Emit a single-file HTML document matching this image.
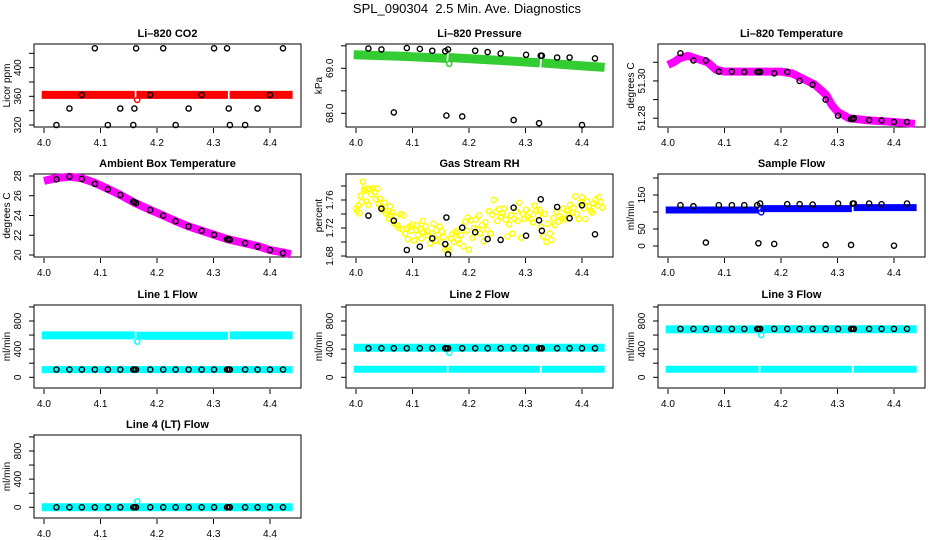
<!DOCTYPE html>
<html><head><meta charset="utf-8"><style>
html,body{margin:0;padding:0;background:#fff;}
svg{display:block;font-family:"Liberation Sans",sans-serif;}
</style></head><body>
<svg id="chart" width="936" height="540" viewBox="0 0 936 540" xmlns="http://www.w3.org/2000/svg">
<text x="467" y="13" text-anchor="middle" font-size="13">SPL_090304&#160; 2.5 Min. Ave. Diagnostics</text>
</svg>
<script>
// shared sample times for black (instantaneous) circles
const BX = [4.022,4.045,4.067,4.09,4.113,4.135,4.158,4.160,4.163,4.188,4.211,4.233,4.256,4.279,4.301,4.324,4.327,4.329,4.356,4.378,4.4,4.423];
const CO2_B = [320,343,362,427,320,343,320,343,427,362,427,320,343,362,427,427,343,320,320,343,362,427];
const PRES_B = [69.44,69.42,68.02,69.45,69.43,69.39,69.38,67.95,69.42,67.93,69.39,69.36,69.33,67.85,69.30,67.78,69.28,69.28,69.24,69.24,67.74,69.22];
const TEMP_B = [51.3148,51.311,51.311,51.305,51.305,51.3048,51.3048,51.3048,51.3048,51.3041,51.3048,51.300,51.298,51.290,51.2814,51.2796,51.2797,51.280,51.279,51.2788,51.278,51.278];
const AMB_B = [27.66,27.93,27.7,27.2,26.65,26.08,25.4,25.35,25.25,24.55,24.0,23.43,22.9,22.46,22.05,21.6,21.58,21.55,21.2,20.85,20.5,20.2];
const RH_B = [1.7376,1.7476,1.7305,1.6886,1.6933,1.7052,1.697,1.735,1.6824,1.7205,1.714,1.7043,1.703,1.749,1.709,1.731,1.761,1.716,1.750,1.734,1.7524,1.711];
const SF_B = [120,117,10,120,120,120,120,8,125,6,123,123,122,3,125,3,125,125,125,123,1,125];
const L1_B = [110,110,110,110,110,110,110,110,110,110,110,110,110,110,110,110,110,110,110,110,110,110];
const L2_B = [412,412,412,412,412,412,412,412,412,412,412,412,412,412,412,412,412,412,412,412,412,412];
const L3_B = [688,688,688,688,688,688,688,688,688,688,688,688,688,688,688,688,688,688,688,688,688,688];
const L4_B = [0,0,0,0,0,0,0,0,0,0,0,0,0,0,0,0,0,0,0,0,0,0];

// dense averaged series (band centre lines), split into segments
const SEG_X = [[3.996,4.08,4.1605],[4.1635,4.25,4.3255],[4.3285,4.385,4.440]];
const CO2_SEG = [[362,362,362],[362,362,362],[362,362,362]];
const PRES_SEG = [[69.30,69.27,69.22],[69.24,69.18,69.12],[69.12,69.07,69.02]];
const SF_SEG = [[106,106,106],[110,110,110],[113,113,113]];
const L1_HI = [[595,595,595],[590,590,590],[595,595,595]];
const L1_LO = [[110,110,110],[110,110,110],[110,110,110]];
const L2_HI = [[420,420,420],[420,420,420],[420,420,420]];
const L2_LO = [[113,113,113],[113,113,113],[113,113,113]];
const L3_HI = [[680,680,680],[682,682,682],[682,682,682]];
const L3_LO = [[113,113,113],[113,113,113],[113,113,113]];
const L4_SEG = [[0,0,0],[0,0,0],[0,0,0]];
const OUT_X = 4.165;
const CO2_OUT = 355, PRES_OUT = 69.1, SF_OUT = 99, L1_OUT = 507, L2_OUT = 350, L3_OUT = 600, L4_OUT = 86;

const TEMP_X = [4.0,4.01,4.02,4.035,4.05,4.07,4.085,4.1,4.2,4.22,4.24,4.26,4.28,4.29,4.3,4.32,4.35,4.4,4.437];
const TEMP_Y = [51.3086,51.310,51.312,51.3135,51.312,51.310,51.306,51.305,51.305,51.304,51.301,51.298,51.2925,51.287,51.2835,51.280,51.279,51.278,51.277];
const AMB_X = [4.0,4.02,4.045,4.067,4.09,4.113,4.135,4.16,4.188,4.211,4.233,4.256,4.279,4.301,4.325,4.356,4.378,4.4,4.423,4.437];
const AMB_Y = [27.5,27.76,27.93,27.76,27.3,26.7,26.08,25.3,24.57,24.0,23.43,22.9,22.46,22.05,21.6,21.2,20.9,20.5,20.27,20.07];

const RH_X = [4.000,4.002,4.004,4.006,4.008,4.010,4.012,4.014,4.016,4.018,4.020,4.022,4.025,4.027,4.030,4.033,4.035,4.038,4.040,4.042,4.045,4.048,4.050,4.053,4.056,4.058,4.060,4.062,4.065,4.068,4.070,4.073,4.076,4.079,4.082,4.084,4.087,4.090,4.092,4.095,4.098,4.100,4.103,4.106,4.108,4.110,4.113,4.116,4.118,4.120,4.123,4.126,4.128,4.131,4.134,4.137,4.140,4.142,4.145,4.148,4.150,4.152,4.155,4.158,4.162,4.165,4.168,4.170,4.173,4.176,4.178,4.180,4.183,4.186,4.190,4.193,4.196,4.198,4.200,4.203,4.206,4.209,4.212,4.215,4.218,4.220,4.223,4.226,4.229,4.232,4.235,4.238,4.241,4.244,4.247,4.250,4.253,4.256,4.259,4.262,4.265,4.268,4.271,4.274,4.277,4.280,4.283,4.286,4.289,4.292,4.295,4.298,4.301,4.304,4.307,4.310,4.313,4.316,4.319,4.322,4.325,4.328,4.331,4.334,4.337,4.340,4.343,4.346,4.349,4.352,4.355,4.358,4.361,4.364,4.367,4.370,4.373,4.376,4.379,4.382,4.385,4.388,4.391,4.394,4.397,4.400,4.403,4.406,4.409,4.412,4.415,4.418,4.421,4.424,4.427,4.430,4.433,4.436];
const RH_Y = [1.748,1.744,1.752,1.741,1.766,1.757,1.786,1.775,1.773,1.758,1.776,1.753,1.776,1.768,1.777,1.771,1.761,1.776,1.754,1.762,1.750,1.745,1.756,1.741,1.744,1.733,1.751,1.738,1.742,1.726,1.736,1.724,1.720,1.740,1.718,1.738,1.712,1.720,1.704,1.722,1.716,1.725,1.702,1.717,1.724,1.710,1.719,1.705,1.730,1.714,1.722,1.715,1.709,1.698,1.712,1.726,1.702,1.717,1.710,1.722,1.700,1.715,1.707,1.689,1.692,1.688,1.705,1.711,1.700,1.713,1.716,1.703,1.698,1.710,1.694,1.729,1.716,1.735,1.689,1.731,1.706,1.720,1.732,1.718,1.738,1.712,1.724,1.701,1.728,1.718,1.744,1.712,1.739,1.760,1.743,1.730,1.747,1.736,1.741,1.748,1.732,1.708,1.725,1.738,1.712,1.733,1.744,1.730,1.756,1.706,1.740,1.733,1.746,1.736,1.742,1.733,1.728,1.752,1.745,1.738,1.746,1.722,1.708,1.740,1.700,1.726,1.712,1.703,1.734,1.724,1.743,1.729,1.737,1.733,1.748,1.732,1.745,1.740,1.753,1.742,1.749,1.765,1.740,1.733,1.756,1.764,1.748,1.733,1.758,1.750,1.745,1.742,1.755,1.760,1.752,1.764,1.757,1.749];

const X_TICKS = [4.0,4.1,4.2,4.3,4.4];
const X_LABELS = ["4.0","4.1","4.2","4.3","4.4"];

const NS = "http://www.w3.org/2000/svg";
const svg = document.getElementById('chart');
const COL_LEFT = [34, 346, 658];
const ROW_TOP = [44, 174, 305, 435];
const BOX_W = 267, BOX_H = 83;

function mk(tag, attrs, parent){
  const e = document.createElementNS(NS, tag);
  for (const k in attrs) e.setAttribute(k, attrs[k]);
  (parent || svg).appendChild(e);
  return e;
}

function panel(col, row, title, ylab, ymin, ymax, yticks, ylabels, key){
  const L = COL_LEFT[col], T = ROW_TOP[row], B = T + BOX_H, R = L + BOX_W;
  const g = mk('g', {});
  
  
  const p = {
    g: g, L: L, T: T, B: B, R: R,
    x: v => L + 10 + (v - 4.0) * 565,
    y: v => B - (v - ymin) / (ymax - ymin) * BOX_H
  };
  const t = mk('text', {x: (L + R) / 2, y: T - 7, 'text-anchor': 'middle', 'font-size': 11, 'font-weight': 'bold'}, g);
  t.textContent = title;
  
  
  const yl = mk('text', {x: L - 24, y: (T + B) / 2, 'text-anchor': 'middle', 'font-size': 10, transform: `rotate(-90 ${L - 24} ${(T + B) / 2})`}, g);
  yl.textContent = ylab;
  
  
  const box = mk('rect', {x: L, y: T, width: BOX_W, height: BOX_H, fill: 'none', stroke: '#000', 'stroke-width': 1}, g);
  
  
  yticks.forEach(v => {
    const yy = p.y(v);
    const tk = mk('line', {x1: L - 5, x2: L, y1: yy, y2: yy, stroke: '#000'}, g);
    
    
  });
  ylabels.forEach(lb => {
    const yy = p.y(parseFloat(lb));
    const tx = mk('text', {x: L - 13, y: yy, 'text-anchor': 'middle', 'font-size': 10, transform: `rotate(-90 ${L - 13} ${yy})`}, g);
    tx.textContent = lb;
    
    
  });
  X_TICKS.forEach((v, i) => {
    const xx = p.x(v);
    const tk = mk('line', {x1: xx, x2: xx, y1: B + 1, y2: B + 6, stroke: '#000'}, g);
    
    
    const tx = mk('text', {x: xx, y: B + 19, 'text-anchor': 'middle', 'font-size': 10}, g);
    tx.textContent = X_LABELS[i];
    
    
  });
  return p;
}

function band(p, xs, ys, color, w, name){
  const pts = xs.map((x, i) => p.x(x).toFixed(1) + ',' + p.y(ys[i]).toFixed(1)).join(' ');
  const pl = mk('polyline', {points: pts, fill: 'none', stroke: color, 'stroke-width': w, 'stroke-linecap': 'butt', 'stroke-linejoin': 'round'}, p.g);
  
  
}
function segBands(p, segs, color, w, name){
  SEG_X.forEach((xs, i) => band(p, xs, segs[i], color, w, name));
}
function circ(p, x, y, color, name, r){
  const c = mk('circle', {cx: p.x(x), cy: p.y(y), r: r || 2.6, fill: 'none', stroke: color, 'stroke-width': 1.4}, p.g);
  
  
}
function blacks(p, vals){
  BX.forEach((x, i) => circ(p, x, vals[i], '#000', 'sample-point'));
}

// Row 1
let p = panel(0, 0, 'Li\u2013820 CO2', 'Licor ppm', 317.2, 433, [320,340,360,380,400,420], ['320','360','400'], 'co2');
segBands(p, CO2_SEG, '#ff0000', 8, 'co2-average-band');
circ(p, OUT_X, CO2_OUT, '#ff0000', 'co2-outlier');
blacks(p, CO2_B);

p = panel(1, 0, 'Li\u2013820 Pressure', 'kPa', 67.696, 69.54, [68.0,68.5,69.0,69.5], ['68.0','69.0'], 'pressure');
segBands(p, PRES_SEG, '#33cc33', 9, 'pressure-average-band');
circ(p, OUT_X, PRES_OUT, '#22cc22', 'pressure-outlier');
blacks(p, PRES_B);

p = panel(2, 0, 'Li\u2013820 Temperature', 'degrees C', 51.2753, 51.3198, [51.28,51.29,51.30,51.31], ['51.28','51.30'], 'temperature');
band(p, TEMP_X, TEMP_Y, '#ff00ff', 8, 'temperature-average-band');
blacks(p, TEMP_B);

// Row 2
p = panel(0, 1, 'Ambient Box Temperature', 'degrees C', 19.8, 28.2, [20,22,24,26,28], ['20','22','24','26','28'], 'ambient');
band(p, AMB_X, AMB_Y, '#ff00ff', 8, 'ambient-average-band');
blacks(p, AMB_B);

p = panel(1, 1, 'Gas Stream RH', 'percent', 1.6786, 1.7971, [1.68,1.70,1.72,1.74,1.76,1.78], ['1.68','1.72','1.76'], 'rh');
RH_X.forEach((x, i) => circ(p, x, RH_Y[i], '#ffff00', 'rh-average-point'));
blacks(p, RH_B);

p = panel(2, 1, 'Sample Flow', 'ml/min', -32.4, 211.8, [0,50,100,150,200], ['0','50','150'], 'sample-flow');
segBands(p, SF_SEG, '#0000ff', 7, 'sample-flow-average-band');
circ(p, OUT_X, SF_OUT, '#0000ff', 'sample-flow-outlier');
blacks(p, SF_B);

// Row 3 & 4
const FT = [0,200,400,600,800,1000], FL = ['0','400','800'];
p = panel(0, 2, 'Line 1 Flow', 'ml/min', -152, 1027, FT, FL, 'line1');
segBands(p, L1_HI, '#00ffff', 8, 'line1-upper-band');
segBands(p, L1_LO, '#00ffff', 7, 'line1-lower-band');
circ(p, OUT_X, L1_OUT, '#00ffff', 'line1-outlier');
blacks(p, L1_B);

p = panel(1, 2, 'Line 2 Flow', 'ml/min', -152, 1027, FT, FL, 'line2');
segBands(p, L2_HI, '#00ffff', 8, 'line2-upper-band');
segBands(p, L2_LO, '#00ffff', 7, 'line2-lower-band');
circ(p, OUT_X, L2_OUT, '#00ffff', 'line2-outlier');
blacks(p, L2_B);

p = panel(2, 2, 'Line 3 Flow', 'ml/min', -152, 1027, FT, FL, 'line3');
segBands(p, L3_HI, '#00ffff', 8, 'line3-upper-band');
segBands(p, L3_LO, '#00ffff', 7, 'line3-lower-band');
circ(p, OUT_X, L3_OUT, '#00ffff', 'line3-outlier');
blacks(p, L3_B);

p = panel(0, 3, 'Line 4 (LT) Flow', 'ml/min', -152, 1027, FT, FL, 'line4');
segBands(p, L4_SEG, '#00ffff', 8, 'line4-band');
circ(p, OUT_X, L4_OUT, '#00ffff', 'line4-outlier');
blacks(p, L4_B);
</script>
</body></html>
